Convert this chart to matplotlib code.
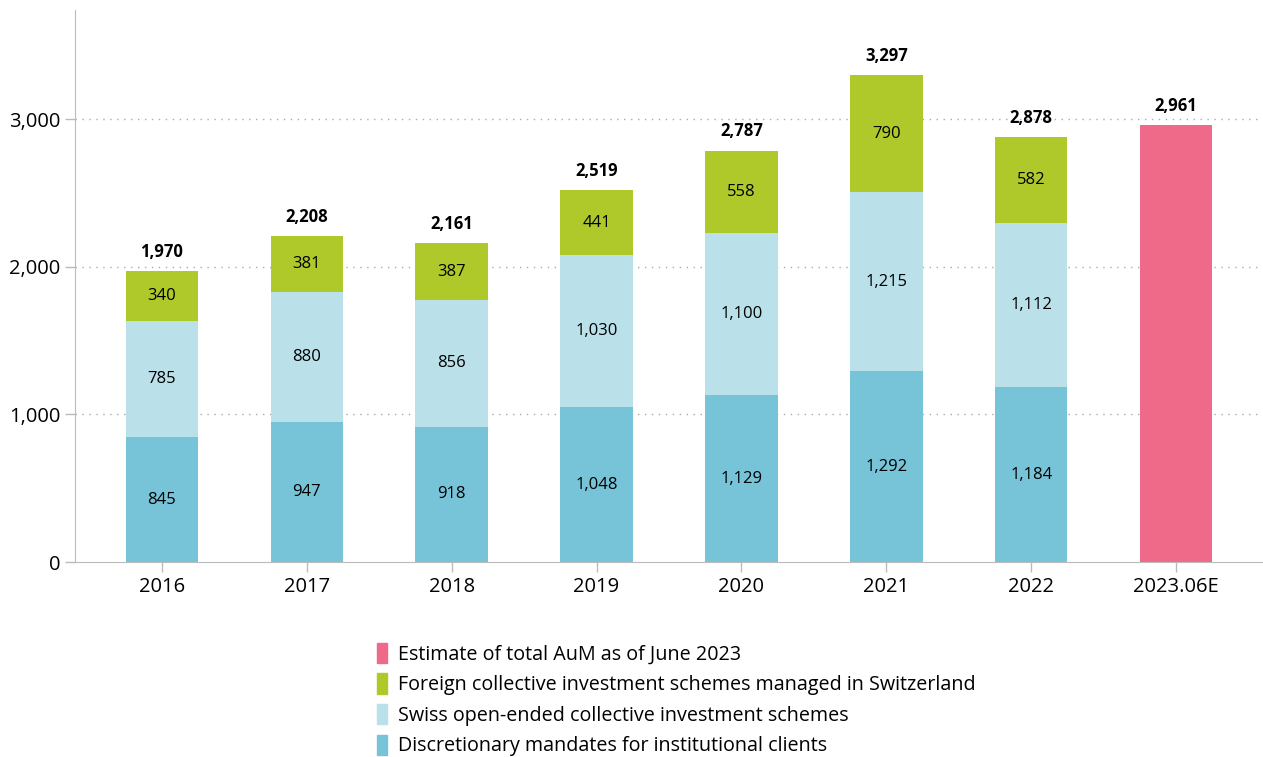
import numpy as np
import matplotlib.pyplot as plt
from matplotlib.patches import Patch

plt.rcParams['font.family'] = ['Open Sans', 'DejaVu Sans']

years = ['2016', '2017', '2018', '2019', '2020', '2021', '2022', '2023.06E']
mandates = [845, 947, 918, 1048, 1129, 1292, 1184]
swiss_open = [785, 880, 856, 1030, 1100, 1215, 1112]
foreign = [340, 381, 387, 441, 558, 790, 582]
totals = [1970, 2208, 2161, 2519, 2787, 3297, 2878]
estimate_2023 = 2961

legend_labels = ['Estimate of total AuM as of June 2023',
                 'Foreign collective investment schemes managed in Switzerland',
                 'Swiss open-ended collective investment schemes',
                 'Discretionary mandates for institutional clients']

c_mand = '#77c4d9'
c_swiss = '#bae0e9'
c_foreign = '#afc92a'
c_est = '#ee6a88'

fig = plt.figure(figsize=(12.63, 7.57), dpi=100)
ax = fig.add_axes([75 / 1263, 195 / 757, 1188 / 1263, 552 / 757])

x = np.arange(len(years))
xs = x[:7]
w = 0.5

ax.bar(xs, mandates, w, color=c_mand, zorder=2)
ax.bar(xs, swiss_open, w, bottom=mandates, color=c_swiss, zorder=2)
bottom2 = np.array(mandates) + np.array(swiss_open)
ax.bar(xs, foreign, w, bottom=bottom2, color=c_foreign, zorder=2)
ax.bar(x[7], estimate_2023, w, color=c_est, zorder=2)

for i in range(7):
    ax.text(xs[i], mandates[i] / 2, f'{mandates[i]:,}', ha='center', va='center', fontsize=12)
    ax.text(xs[i], mandates[i] + swiss_open[i] / 2, f'{swiss_open[i]:,}', ha='center', va='center', fontsize=12)
    ax.text(xs[i], bottom2[i] + foreign[i] / 2, f'{foreign[i]:,}', ha='center', va='center', fontsize=12)
    ax.text(xs[i], totals[i] + 70, f'{totals[i]:,}', ha='center', va='bottom', fontsize=12, fontweight='bold')
ax.text(x[7], estimate_2023 + 70, f'{estimate_2023:,}', ha='center', va='bottom', fontsize=12, fontweight='bold')

ax.set_xlim(-0.6, 7.6)
ax.set_ylim(0, 3740)
ax.set_xticks(x)
ax.set_xticklabels(years, fontsize=14.5)
ax.set_yticks([0, 1000, 2000, 3000])
ax.set_yticklabels(['0', '1,000', '2,000', '3,000'], fontsize=14.5)
for yv in [1000, 2000, 3000]:
    ax.axhline(yv, color='#aaaaaa', linestyle=(0, (1, 4)), linewidth=1, zorder=1)

for s in ['top', 'right']:
    ax.spines[s].set_visible(False)
ax.spines['left'].set_color('#bbbbbb')
ax.spines['bottom'].set_color('#bbbbbb')
ax.tick_params(axis='both', color='#bbbbbb', length=7, width=1)
ax.tick_params(axis='x', pad=4)

handles = [Patch(color=c) for c in [c_est, c_foreign, c_swiss, c_mand]]
fig.legend(handles, legend_labels, loc='upper left', bbox_to_anchor=(359 / 1263, 1 - 625 / 757),
           frameon=False, fontsize=14.2, handlelength=0.5, handleheight=1.2,
           handletextpad=0.6, labelspacing=0.45)

fig.savefig('out.png', dpi=100)
